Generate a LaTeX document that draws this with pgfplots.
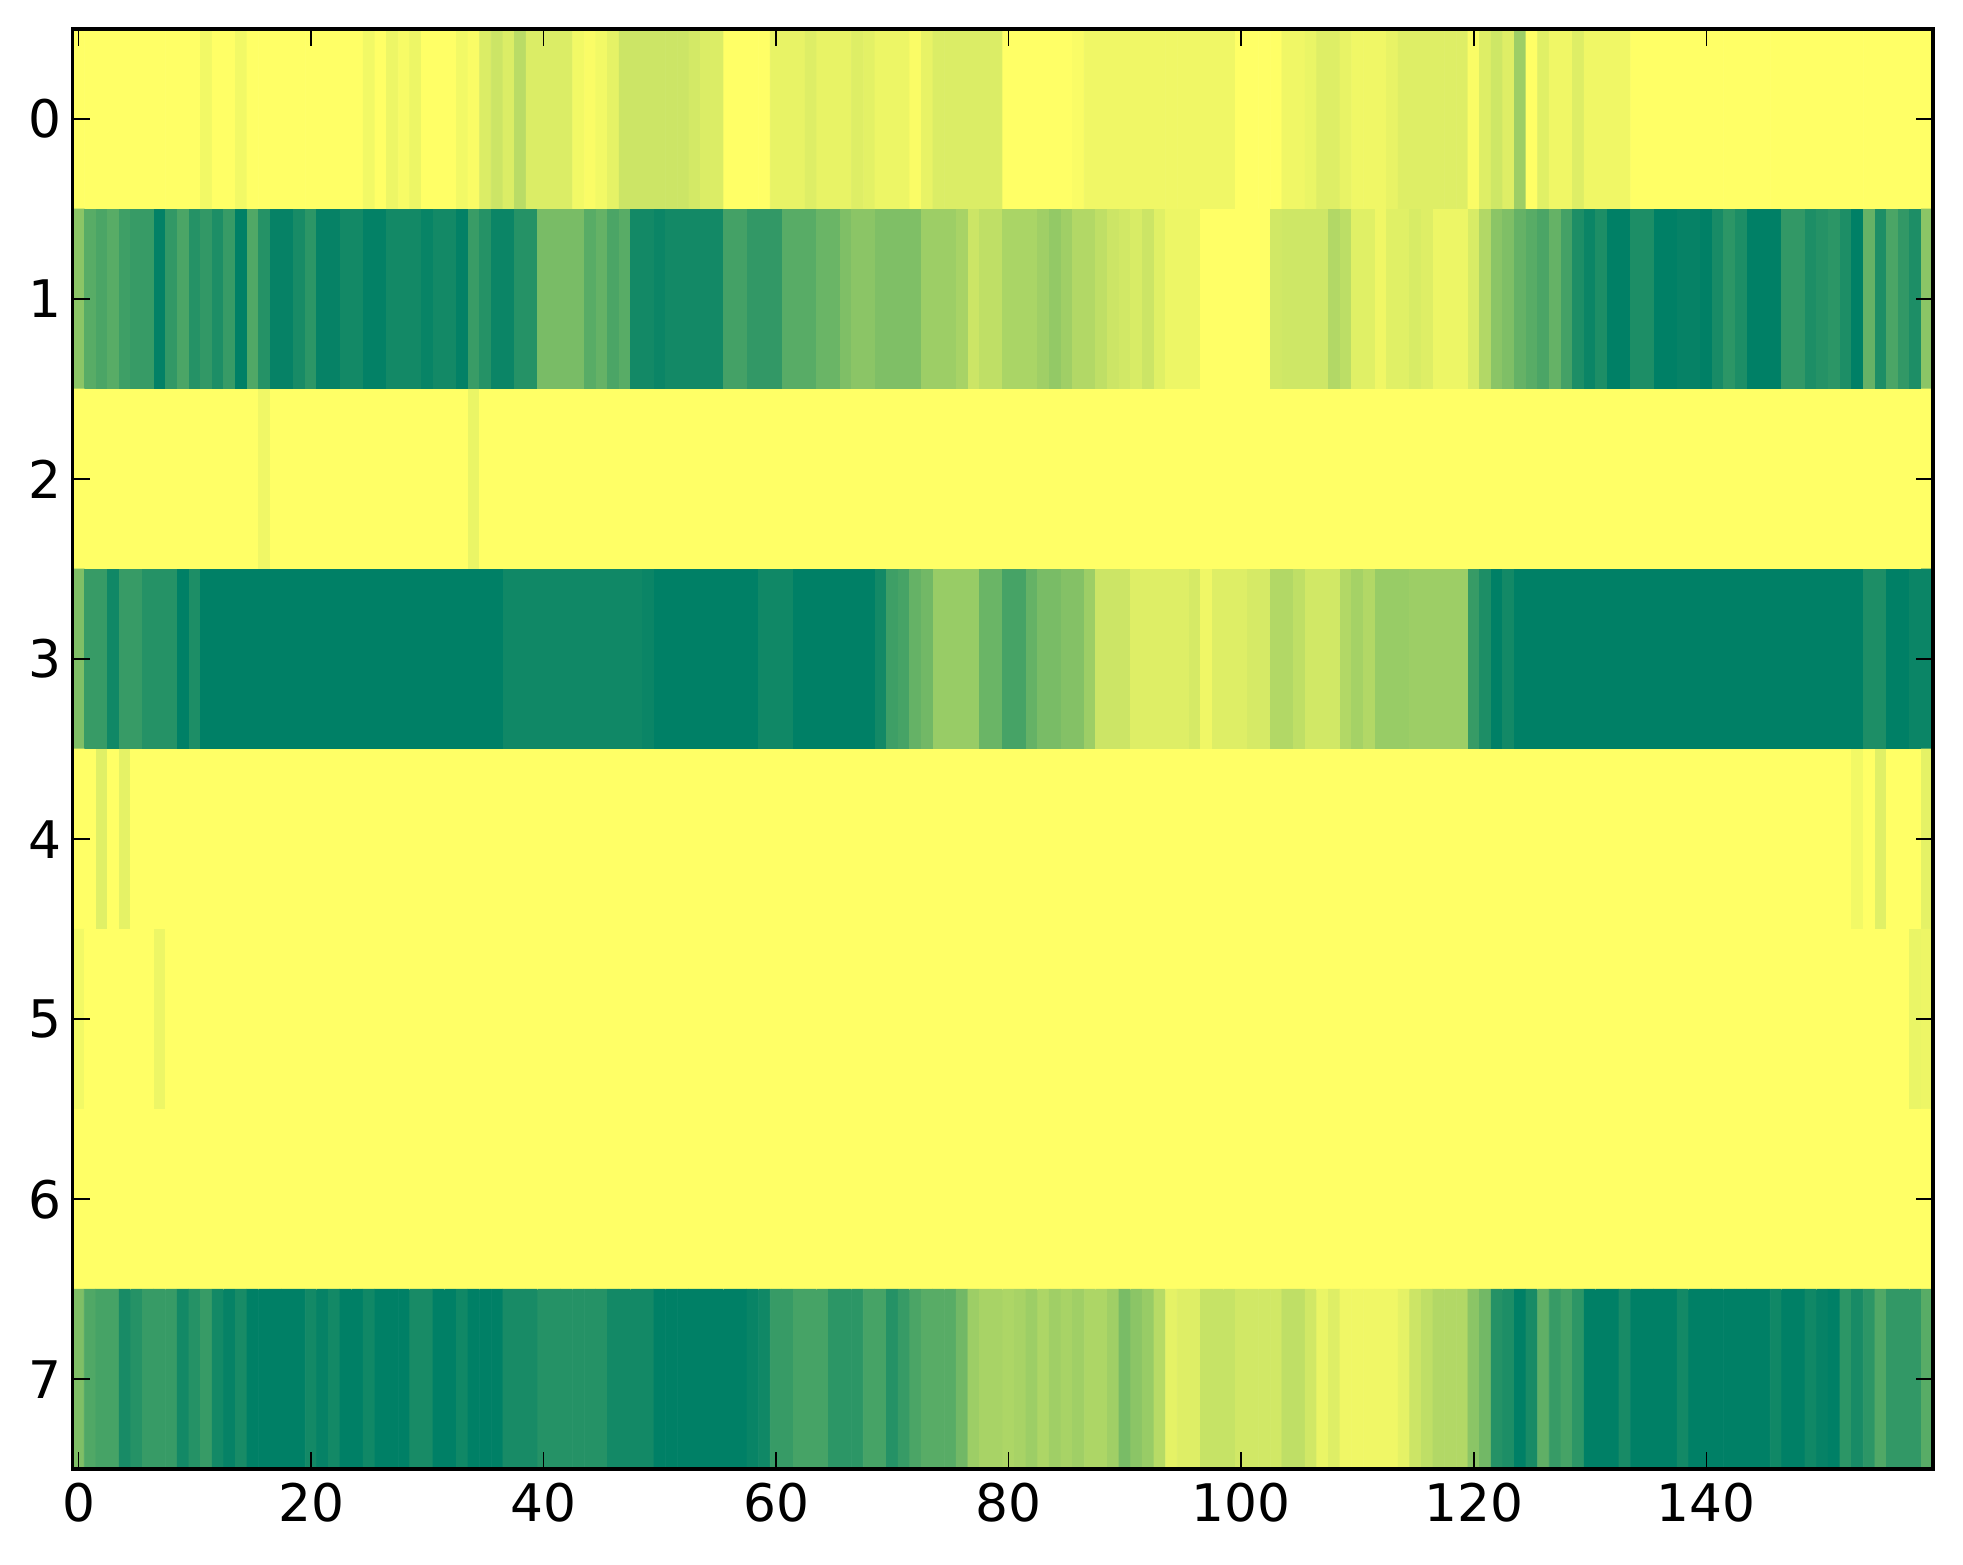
\documentclass[border=0pt]{standalone}
\usepackage{pgfplots}
\pgfplotsset{compat=1.18}
\usepackage{fontspec}
\setmainfont{DejaVu Sans}
\gdef\data{}
\newcommand\addrow[2]{\foreach \v [count=\i from 0] in {#2} {\xdef\data{\data(\i,#1)[\v] }}}
\addrow{0}{0,0,0,0,0,0,0,0,0,0,0,.05,0,0,.05,0,0,0,0,0,
0,0,0,0,0,.05,0,.07,.03,.07,0,0,0,.05,.02,.14,.2,.14,.27,.14,
.14,.14,.14,.05,.02,.05,.1,.2,.2,.2,.2,.2,.2,.17,.14,.14,0,0,0,0,
.09,.09,.09,.13,.09,.09,.09,.13,.11,.07,.07,.07,.02,.09,.14,.14,.14,.14,.14,.14,
0,0,0,0,0,0,.02,.06,.06,.06,.06,.06,.06,.06,.06,.06,.06,.06,.06,.06,
0,0,0,0,.06,.06,.08,.13,.13,.09,.06,.06,.06,.09,.13,.13,.13,.13,.13,.13,
.02,.13,.19,.13,.38,0,.12,.06,.06,.13,.06,.06,.06,.06,0,0,0,0,0,0,
0,0,0,0,0,0,0,0,0,0,0,0,0,0,0,0,0,0,0,0}
\addrow{1}{.45,.65,.7,.65,.75,.78,.78,.98,.8,.7,.85,.8,.88,.78,1,.68,.85,.97,.97,.9,
.82,.97,.97,.92,.92,.98,.98,.92,.92,.92,.96,.92,.92,.98,.77,.85,.95,.95,.85,.85,
.52,.52,.52,.52,.65,.6,.7,.65,.92,.92,.95,.92,.92,.92,.92,.92,.73,.73,.8,.8,
.8,.65,.65,.65,.58,.58,.5,.45,.45,.5,.5,.5,.5,.38,.38,.38,.34,.2,.25,.25,
.33,.33,.33,.37,.42,.37,.3,.3,.25,.2,.18,.15,.2,.12,.07,.07,.07,0,0,0,
0,0,0,.18,.19,.19,.19,.19,.3,.26,.12,.12,.06,.12,.12,.15,.13,.07,.07,.07,
.15,.3,.45,.5,.6,.65,.7,.6,.73,.88,.95,.88,1,1,.88,.88,1,1,.97,.97,
1,.9,.82,.88,1,1,1,.8,.8,.88,.85,.82,.88,1,.6,.88,.7,.8,.88,.45}
\addrow{2}{0,0,0,0,0,0,0,0,0,0,0,0,0,0,0,0,.06,0,0,0,
0,0,0,0,0,0,0,0,0,0,0,0,0,0,.08,0,0,0,0,0,
0,0,0,0,0,0,0,0,0,0,0,0,0,0,0,0,0,0,0,0,
0,0,0,0,0,0,0,0,0,0,0,0,0,0,0,0,0,0,0,0,
0,0,0,0,0,0,0,0,0,0,0,0,0,0,0,0,0,0,0,0,
0,0,0,0,0,0,0,0,0,0,0,0,0,0,0,0,0,0,0,0,
0,0,0,0,0,0,0,0,0,0,0,0,0,0,0,0,0,0,0,0,
0,0,0,0,0,0,0,0,0,0,0,0,0,0,0,0,0,0,0,0}
\addrow{3}{.5,.78,.78,.93,.78,.78,.85,.85,.85,1,.88,1,1,1,1,1,1,1,1,1,
1,1,1,1,1,1,1,1,1,1,1,1,1,1,1,1,1,.93,.93,.93,
.93,.93,.93,.93,.93,.93,.93,.93,.93,.95,1,1,1,1,1,1,1,1,1,.93,
.93,.93,1,1,1,1,1,1,1,.92,.75,.72,.6,.55,.4,.4,.4,.4,.58,.58,
.72,.72,.6,.52,.52,.48,.48,.38,.2,.2,.2,.13,.13,.13,.13,.13,.16,.06,.13,.13,
.13,.16,.16,.3,.3,.25,.18,.18,.18,.3,.35,.3,.4,.4,.4,.38,.38,.38,.38,.38,
.78,.88,1,.92,1,1,1,1,1,1,1,1,1,1,1,1,1,1,1,1,
1,1,1,1,1,1,1,1,1,1,1,1,1,1,.88,.88,1,1,.95,.95}
\addrow{4}{0,0,.12,0,.1,0,0,0,0,0,0,0,0,0,0,0,0,0,0,0,
0,0,0,0,0,0,0,0,0,0,0,0,0,0,0,0,0,0,0,0,
0,0,0,0,0,0,0,0,0,0,0,0,0,0,0,0,0,0,0,0,
0,0,0,0,0,0,0,0,0,0,0,0,0,0,0,0,0,0,0,0,
0,0,0,0,0,0,0,0,0,0,0,0,0,0,0,0,0,0,0,0,
0,0,0,0,0,0,0,0,0,0,0,0,0,0,0,0,0,0,0,0,
0,0,0,0,0,0,0,0,0,0,0,0,0,0,0,0,0,0,0,0,
0,0,0,0,0,0,0,0,0,0,0,0,0,.05,0,.12,0,0,0,.1}
\addrow{5}{.05,0,0,0,0,0,0,.07,0,0,0,0,0,0,0,0,0,0,0,0,
0,0,0,0,0,0,0,0,0,0,0,0,0,0,0,0,0,0,0,0,
0,0,0,0,0,0,0,0,0,0,0,0,0,0,0,0,0,0,0,0,
0,0,0,0,0,0,0,0,0,0,0,0,0,0,0,0,0,0,0,0,
0,0,0,0,0,0,0,0,0,0,0,0,0,0,0,0,0,0,0,0,
0,0,0,0,0,0,0,0,0,0,0,0,0,0,0,0,0,0,0,0,
0,0,0,0,0,0,0,0,0,0,0,0,0,0,0,0,0,0,0,0,
0,0,0,0,0,0,0,0,0,0,0,0,0,0,0,0,0,0,.08,.07}
\addrow{6}{0,0,0,0,0,0,0,0,0,0,0,0,0,0,0,0,0,0,0,0,
0,0,0,0,0,0,0,0,0,0,0,0,0,0,0,0,0,0,0,0,
0,0,0,0,0,0,0,0,0,0,0,0,0,0,0,0,0,0,0,0,
0,0,0,0,0,0,0,0,0,0,0,0,0,0,0,0,0,0,0,0,
0,0,0,0,0,0,0,0,0,0,0,0,0,0,0,0,0,0,0,0,
0,0,0,0,0,0,0,0,0,0,0,0,0,0,0,0,0,0,0,0,
0,0,0,0,0,0,0,0,0,0,0,0,0,0,0,0,0,0,0,0,
0,0,0,0,0,0,0,0,0,0,0,0,0,0,0,0,0,0,0,0}
\addrow{7}{.5,.68,.72,.72,.9,.85,.78,.78,.78,.92,.85,.78,.92,.97,.9,1,1,1,1,1,
.92,.97,.92,1,1,.93,1,1,1,.9,.9,1,1,.93,1,1,1,.9,.9,.9,
.85,.85,.85,.85,.85,.85,.92,.92,.92,.92,1,1,1,1,1,1,1,1,.96,.93,
.78,.78,.72,.72,.72,.82,.82,.82,.72,.72,.85,.78,.7,.65,.65,.65,.55,.38,.34,.34,
.32,.34,.38,.32,.37,.34,.37,.32,.32,.37,.52,.45,.4,.28,.1,.13,.13,.22,.22,.22,
.18,.18,.18,.18,.25,.25,.18,.08,.13,.06,.06,.06,.06,.06,.1,.2,.25,.3,.3,.3,
.45,.55,.85,.88,1,.9,.62,.78,.72,.82,1,1,1,.9,1,1,1,1,.92,1,
1,1,1,1,1,1,.93,1,1,.93,.97,1,.82,.9,.82,.68,.8,.8,.8,.65}
\pgfplotsset{colormap={summerr}{rgb=(1,1,0.4) rgb=(0,0.5,0.4)}}
\begin{document}
\begin{tikzpicture}[x=1bp,y=1bp]
\path[use as bounding box] (-36.35,-47.5) rectangle (945,734.5);
\begin{axis}[at={(0,0)},anchor=south west,scale only axis,
  width=930bp,height=720bp,
  xmin=-0.5,xmax=159.5,ymin=-0.5,ymax=7.5,y dir=reverse,
  xtick={0,20,40,60,80,100,120,140},ytick={0,1,2,3,4,5,6,7},
  tick align=inside,major tick length=8.4bp,
  tick style={black,line width=0.8bp},
  axis line style={black,line width=1.75bp},
  axis on top,
  tick label style={font=\fontsize{26}{31}\selectfont,/pgf/number format/assume math mode=true},
  xticklabel style={yshift=-3.5bp},
  yticklabel style={xshift=-2bp},
  point meta min=0,point meta max=1,
  colormap name=summerr]
\edef\cmd{\noexpand\addplot[matrix plot*,mesh/cols=160,point meta=explicit] coordinates {\data};}
\cmd
\end{axis}
\end{tikzpicture}
\end{document}
